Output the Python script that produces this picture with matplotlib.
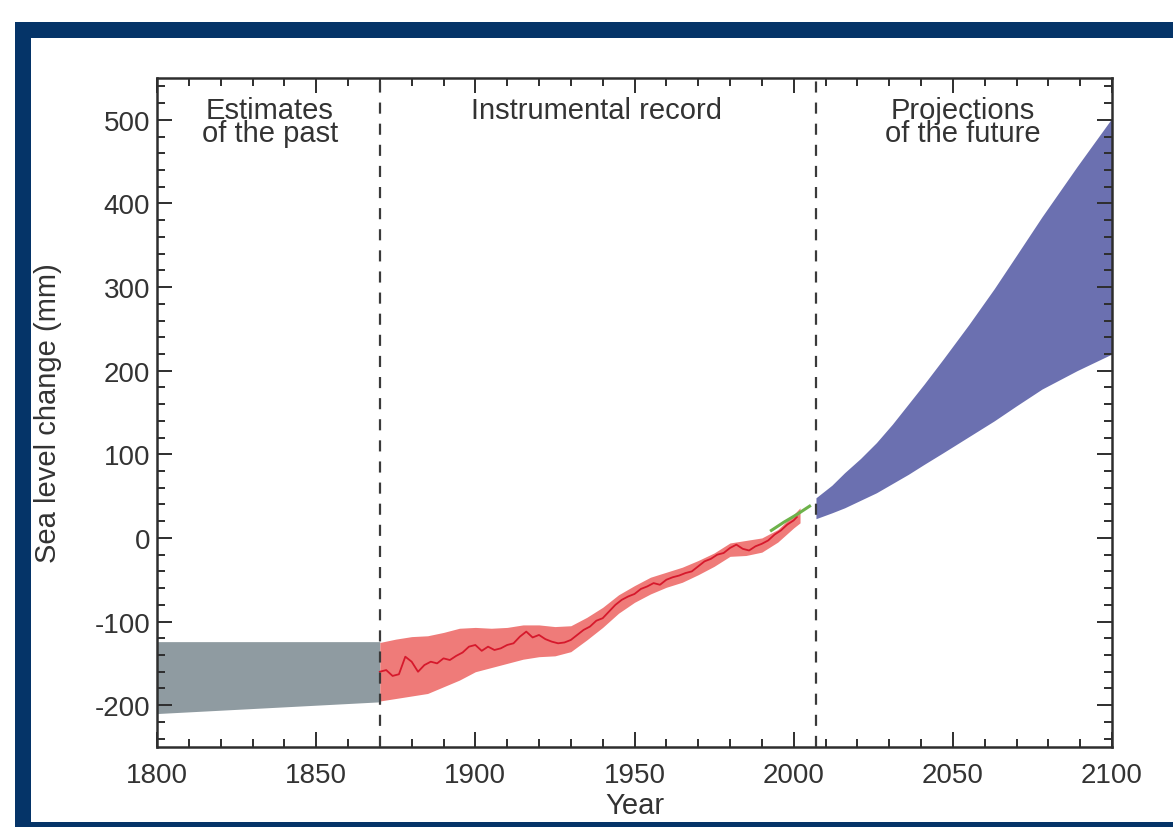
import matplotlib
matplotlib.use("Agg")
import matplotlib.pyplot as plt
from matplotlib.patches import Rectangle
from matplotlib.ticker import MultipleLocator

plt.rcParams['font.family'] = ['Liberation Sans', 'DejaVu Sans']
plt.rcParams['axes.unicode_minus'] = False

# estimates of the past (grey band)
past_years = [1800, 1870]
past_upper = [-124, -124]
past_lower = [-210, -196]

# instrumental record, central estimate
rec_years = [1870, 1872, 1874, 1876, 1878, 1880, 1882, 1884, 1886, 1888,
             1890, 1892, 1894, 1896, 1898, 1900, 1902, 1904, 1906, 1908,
             1910, 1912, 1914, 1916, 1918, 1920, 1922, 1924, 1926, 1928,
             1930, 1932, 1934, 1936, 1938, 1940, 1942, 1944, 1946, 1948,
             1950, 1952, 1954, 1956, 1958, 1960, 1962, 1964, 1966, 1968,
             1970, 1972, 1974, 1976, 1978, 1980, 1982, 1984, 1986, 1988,
             1990, 1992, 1994, 1996, 1998, 2000, 2001]
rec_mean = [-160, -158, -165, -163, -142, -148, -160, -152, -148, -150,
            -144, -146, -141, -137, -130, -128, -135, -130, -134, -132,
            -128, -126, -118, -112, -119, -116, -121, -124, -126, -125,
            -122, -116, -110, -106, -99, -96, -88, -80, -74, -70,
            -67, -61, -58, -54, -56, -50, -47, -45, -42, -40,
            -34, -28, -25, -20, -18, -12, -8, -13, -15, -10,
            -7, -3, 4, 9, 16, 21, 25]

# instrumental record, uncertainty band
band_years = [1870, 1875, 1880, 1885, 1890, 1895, 1900, 1905, 1910, 1915,
              1920, 1925, 1930, 1935, 1940, 1945, 1950, 1955, 1960, 1965,
              1970, 1975, 1980, 1985, 1990, 1995, 2000, 2002]
band_upper = [-125, -121, -118, -117, -113, -108, -107, -108, -107, -104,
              -104, -106, -105, -95, -83, -68, -57, -47, -41, -35,
              -27, -18, -6, -3, 0, 10, 28, 36]
band_lower = [-195, -192, -189, -186, -178, -170, -160, -155, -150, -145,
              -142, -141, -136, -122, -107, -90, -77, -67, -59, -53,
              -44, -34, -22, -21, -17, -5, 12, 18]

# satellite altimetry
sat_years = [1993, 1997, 2001, 2005]
sat_vals = [9, 19, 28, 38]

# projections of the future (blue band)
proj_years = [2007, 2012, 2016, 2021, 2026, 2031, 2036, 2041, 2047,
              2055, 2063, 2070, 2078, 2089, 2100]
proj_upper = [48, 63, 78, 95, 114, 136, 160, 184, 214,
              255, 298, 338, 384, 444, 502]
proj_lower = [23, 30, 36, 45, 54, 65, 76, 88, 102,
              121, 140, 158, 178, 200, 220]

fig = plt.figure(figsize=(11.73, 8.28), dpi=100)
W, H = 1173, 828

# dark blue frame round the picture
fig.patches.append(Rectangle((15 / W, -0.1), 1.2, (828 - 23) / H + 0.1,
                             transform=fig.transFigure, facecolor='#053468',
                             edgecolor='none', zorder=-2))
fig.patches.append(Rectangle((31 / W, 5 / H), 1.2, (823 - 39) / H,
                             transform=fig.transFigure, facecolor='white',
                             edgecolor='none', zorder=-1))

ax = fig.add_axes([157 / W, 1 - 748 / H, (1112 - 157) / W, (748 - 79) / H])
ax.set_facecolor('white')

ax.fill_between(past_years, past_lower, past_upper, color='#8f9ba1', lw=0)
ax.fill_between(band_years, band_lower, band_upper, color='#ef7b79', lw=0)
ax.plot(rec_years, rec_mean, color='#d6192c', lw=1.3)
ax.plot(sat_years, sat_vals, color='#6db24a', lw=2.2)
ax.fill_between(proj_years, proj_lower, proj_upper, color='#6b70b0', lw=0)

for x in [1870, 2007]:
    ax.axvline(x, color='#3a3a3a', lw=1.6, linestyle=(0, (5, 4.5)), zorder=5)

txt = dict(fontsize=21, color='#333333', ha='center', va='center', linespacing=0.8)
ax.text(1835.5, 498, "Estimates\nof the past", **txt)
ax.text(1938, 512, "Instrumental record", **txt)
ax.text(2053, 498, "Projections\nof the future", **txt)

ax.set_xlim(1800, 2100)
ax.set_ylim(-250, 550)
ax.xaxis.set_major_locator(MultipleLocator(50))
ax.xaxis.set_minor_locator(MultipleLocator(10))
ax.yaxis.set_major_locator(MultipleLocator(100))
ax.yaxis.set_minor_locator(MultipleLocator(20))

ax.tick_params(which='both', direction='in', top=True, right=True,
               color='#2e2e2e', width=1.4)
ax.tick_params(which='major', length=11)
ax.tick_params(which='minor', length=6)
ax.tick_params(axis='x', which='major', labelsize=20, labelcolor='#333333', pad=11)
ax.tick_params(axis='y', which='major', labelsize=20, labelcolor='#333333', pad=5)

for s in ax.spines.values():
    s.set_color('#2e2e2e')
    s.set_linewidth(1.8)

ax.set_xlabel("Year", fontsize=21, color='#333333')
ax.set_ylabel("Sea level change (mm)", fontsize=21, color='#333333')
ax.xaxis.set_label_coords(0.5, -0.066)
ax.yaxis.set_label_coords(-0.099, 0.5)

fig.savefig("out.png", dpi=100)
